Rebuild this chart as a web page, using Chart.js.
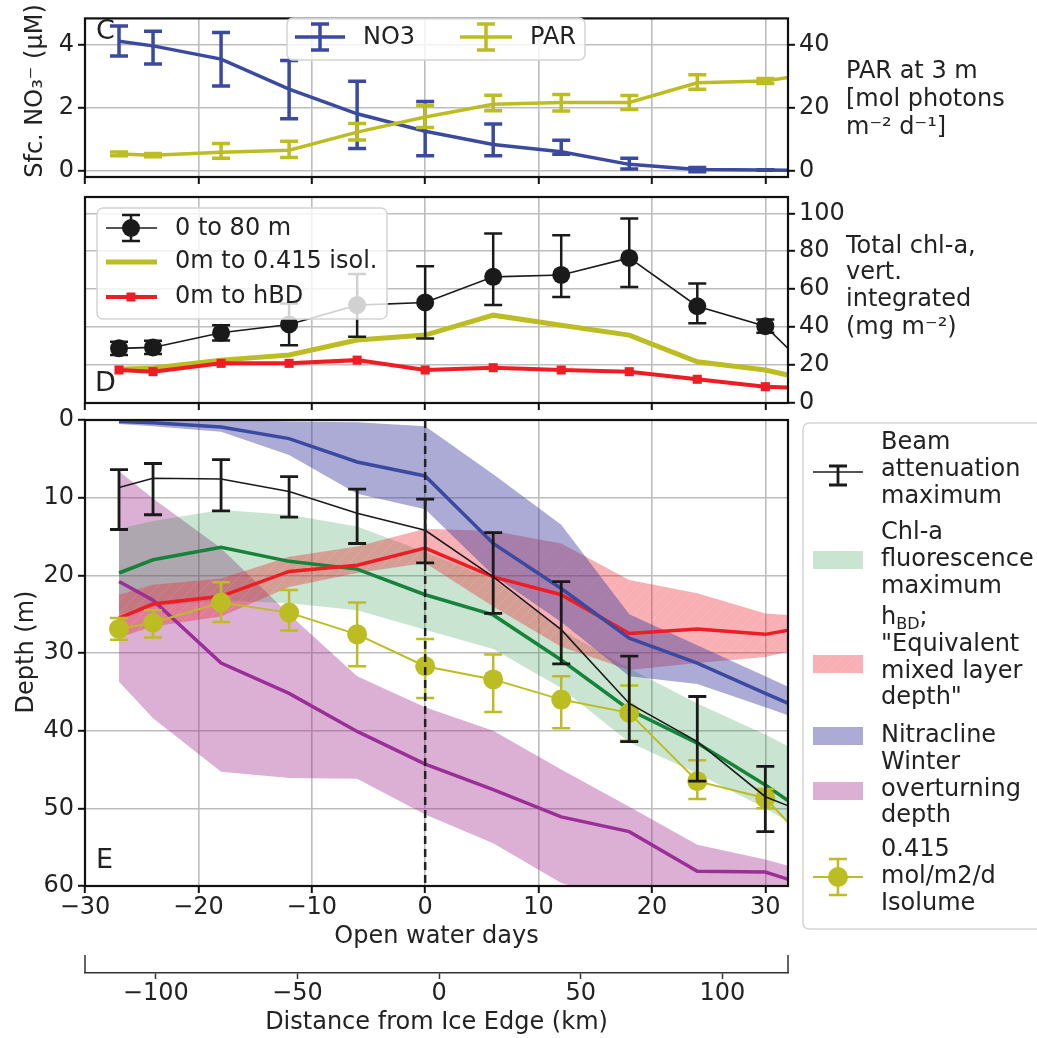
<!DOCTYPE html>
<html>
<head>
<meta charset="utf-8">
<script src="https://cdn.jsdelivr.net/npm/chart.js@4.4.0/dist/chart.umd.min.js"></script>
<style>
    html, body { margin: 0; padding: 0; background: #fff; }
    #wrap { position: relative; width: 1037px; height: 1038px; overflow: hidden; }
    #wrap canvas { position: absolute; left: 0; top: 0; }
</style>
</head>
<body>
<div id="wrap">
    <canvas id="panelE" width="1037" height="1038"></canvas>
    <canvas id="panelD" width="1037" height="1038"></canvas>
    <canvas id="panelC" width="1037" height="1038"></canvas>
</div>
<script>
// ---- shared x positions and ticks ----
const days = [-27, -24, -18, -12, -6, 0, 6, 12, 18, 24, 30, 36];
const dayTicks = [-30, -20, -10, 0, 10, 20, 30];
const kmTicks = [-100, -50, 0, 50, 100];
const no3Ticks = [0, 2, 4];
const parTicks = [0, 20, 40];
const chlTicks = [0, 20, 40, 60, 80, 100];
const depthTicks = [0, 10, 20, 30, 40, 50, 60];
const iceEdgeDay = 0;

// ---- panel C: surface nitrate (uM) and PAR at 3 m ----
const no3   = [4.10, 3.95, 3.53, 2.58, 1.80, 1.25, 0.83, 0.60, 0.20, 0.04, 0.02, 0.00];
const no3Lo = [3.63, 3.38, 2.68, 1.64, 0.70, 0.47, 0.47, 0.52, 0.05, -0.03, 0.01, 0.00];
const no3Hi = [4.58, 4.41, 4.37, 3.49, 2.83, 2.19, 1.48, 0.96, 0.39, 0.10, 0.03, 0.00];
const par   = [5.3, 4.9, 5.8, 6.5, 12.2, 17.0, 21.0, 21.6, 21.6, 27.8, 28.4, 31.7];
const parLo = [4.7, 4.4, 3.9, 4.2, 9.7, 13.7, 19.0, 18.9, 19.4, 25.8, 27.6, 31.7];
const parHi = [5.9, 5.4, 8.6, 9.3, 14.9, 20.7, 23.9, 24.1, 23.8, 30.4, 29.2, 31.7];

// ---- panel D: vertically integrated chl-a (mg m-2) ----
const chl80   = [28.8, 29.3, 37.0, 41.4, 51.6, 53.0, 66.5, 67.5, 76.5, 51.0, 40.5, 5.4];
const chl80Lo = [25.3, 25.8, 33.0, 30.5, 34.9, 34.0, 51.6, 55.9, 61.2, 42.0, 37.0, 5.4];
const chl80Hi = [32.3, 32.8, 41.0, 52.5, 68.0, 72.1, 89.3, 88.4, 97.2, 63.0, 44.0, 5.4];
const chlIso  = [17.8, 18.5, 22.6, 25.3, 33.2, 35.8, 46.3, 41.0, 35.8, 21.7, 17.4, 9.3];
const chlHbd  = [17.4, 16.5, 20.9, 20.9, 22.6, 17.4, 18.6, 17.4, 16.5, 12.5, 8.6, 7.4];

// ---- panel E: depths (m) ----
const beam     = [8.7, 7.5, 7.6, 9.2, 12.0, 14.2, 20.2, 27.0, 36.5, 41.4, 48.5, 52.0];
const beamLo   = [6.4, 5.6, 5.1, 7.3, 8.9, 10.2, 14.5, 20.8, 30.4, 35.6, 44.6, 52.0];
const beamHi   = [14.1, 12.2, 11.7, 12.5, 15.9, 18.4, 24.9, 31.4, 41.4, 46.5, 53.0, 52.0];
const chlMax   = [19.7, 18.0, 16.4, 18.2, 19.2, 22.5, 25.1, 30.9, 37.3, 41.6, 47.0, 53.0];
const chlMaxLo = [14.0, 13.0, 11.6, 12.2, 13.7, 17.0, 20.5, 27.0, 32.0, 36.5, 40.5, 45.0];
const chlMaxHi = [25.0, 24.0, 23.2, 23.6, 24.5, 27.0, 29.5, 34.5, 41.5, 45.5, 50.0, 55.0];
const hbd      = [25.5, 23.7, 22.7, 19.5, 18.7, 16.5, 20.2, 22.5, 27.5, 26.9, 27.6, 26.0];
const hbdLo    = [22.5, 21.2, 20.4, 17.6, 16.3, 14.0, 14.3, 15.9, 20.6, 22.3, 24.9, 25.5];
const hbdHi    = [28.0, 26.6, 25.3, 21.5, 19.7, 18.4, 24.0, 29.2, 32.2, 31.3, 30.5, 28.5];
const nitra    = [0.2, 0.35, 0.9, 2.4, 5.4, 7.2, 15.9, 21.7, 28.1, 31.3, 35.2, 39.0];
const nitraLo  = [0.0, 0.0, 0.0, 0.2, 0.3, 0.8, 7.0, 13.5, 25.0, 29.0, 33.0, 37.0];
const nitraHi  = [0.5, 0.8, 1.5, 4.5, 9.5, 11.5, 20.0, 26.0, 33.0, 34.0, 37.0, 40.0];
const winter   = [20.8, 23.2, 31.3, 35.2, 40.1, 44.3, 47.6, 51.1, 53.0, 58.1, 58.2, 61.0];
const winterLo = [6.6, 10.1, 16.5, 25.0, 33.0, 37.0, 40.0, 45.0, 49.8, 54.7, 56.6, 59.0];
const winterHi = [33.7, 38.4, 45.3, 46.1, 46.2, 50.8, 54.5, 59.6, 62.0, 64.0, 65.0, 66.0];
const iso      = [26.9, 26.1, 23.5, 24.8, 27.6, 31.7, 33.4, 36.0, 37.7, 46.5, 48.7, 58.0];
const isoLo    = [25.5, 24.5, 20.9, 21.9, 23.5, 28.2, 30.2, 33.0, 34.2, 43.8, 47.5, 58.0];
const isoHi    = [28.3, 28.0, 26.0, 27.1, 31.7, 35.8, 37.6, 39.7, 41.3, 48.8, 50.0, 58.0];

// colours
const BLUE = '#3a4aa0', OLIVE = '#bcbd22', BLACK = '#1a1a1a', RED = '#ee1d23',
      GREEN = '#15843a', PURPLE = '#9b2f98', TXT = '#222222', GRID = '#bdbdbd';
const FONT = "'DejaVu Sans', sans-serif";
const FS = 24;

const pts = (vals) => days.map((d, i) => ({ x: d, y: vals[i] }));
const setTicks = (list) => (scale) => { scale.ticks = list.map(v => ({ value: v })); };
const fmt = (v) => (v < 0 ? '\u2212' : '') + Math.abs(v);

function hatchFill() {
    const c = document.createElement('canvas');
    c.width = c.height = 12;
    const g = c.getContext('2d');
    g.fillStyle = 'rgba(235,30,40,0.35)';
    g.fillRect(0, 0, 12, 12);
    g.strokeStyle = 'rgba(255,255,255,0.12)';
    g.lineWidth = 1;
    g.beginPath();
    g.moveTo(0, 12); g.lineTo(12, 0);
    g.moveTo(-6, 6); g.lineTo(6, -6);
    g.moveTo(6, 18); g.lineTo(18, 6);
    g.stroke();
    return g.createPattern(c, 'repeat');
}
const RED_BAND = hatchFill();
const GREEN_BAND = 'rgba(20,140,50,0.23)';
const BLUE_BAND = 'rgba(55,55,155,0.42)';
const PINK_BAND = 'rgba(160,40,140,0.37)';

// ---- drawing helpers ----
function write(ctx, s, x, y, size, align) {
    ctx.font = (size || FS) + 'px ' + FONT;
    ctx.fillStyle = TXT;
    ctx.textAlign = align || 'left';
    ctx.textBaseline = 'middle';
    ctx.fillText(s, x, y);
}
function writeUp(ctx, s, x, y) {
    ctx.save();
    ctx.translate(x, y);
    ctx.rotate(-Math.PI / 2);
    write(ctx, s, 0, 0, FS, 'center');
    ctx.restore();
}
function legendBox(ctx, x, y, w, h) {
    ctx.save();
    ctx.beginPath();
    ctx.roundRect(x, y, w, h, 6);
    ctx.fillStyle = 'rgba(255,255,255,0.8)';
    ctx.fill();
    ctx.strokeStyle = '#d4d4d4';
    ctx.lineWidth = 1.5;
    ctx.stroke();
    ctx.restore();
}
function hLine(ctx, x1, x2, y, color, lw) {
    ctx.save();
    ctx.strokeStyle = color; ctx.lineWidth = lw;
    ctx.beginPath(); ctx.moveTo(x1, y); ctx.lineTo(x2, y); ctx.stroke();
    ctx.restore();
}
function errMark(ctx, x, y1, y2, cap, color, lw) {
    ctx.save();
    ctx.strokeStyle = color; ctx.lineWidth = lw;
    ctx.beginPath();
    ctx.moveTo(x, y1); ctx.lineTo(x, y2);
    ctx.moveTo(x - cap, y1); ctx.lineTo(x + cap, y1);
    ctx.moveTo(x - cap, y2); ctx.lineTo(x + cap, y2);
    ctx.stroke();
    ctx.restore();
}
function dot(ctx, x, y, r, color) {
    ctx.save();
    ctx.fillStyle = color;
    ctx.beginPath(); ctx.arc(x, y, r, 0, Math.PI * 2); ctx.fill();
    ctx.restore();
}
function swatch(ctx, x, y, w, h, fill) {
    ctx.save();
    ctx.fillStyle = fill;
    ctx.fillRect(x, y, w, h);
    ctx.restore();
}

// error bars from the errLo / errHi arrays of a dataset
const errorBars = {
    id: 'errorBars',
    afterDatasetDraw(chart, args) {
        const ds = chart.data.datasets[args.index];
        if (!ds.errLo) return;
        const xs = chart.scales[args.meta.xAxisID];
        const ys = chart.scales[args.meta.yAxisID];
        const a = chart.chartArea, ctx = chart.ctx;
        ctx.save();
        ctx.beginPath();
        ctx.rect(a.left - 2, a.top - 2, a.right - a.left + 4, a.bottom - a.top + 4);
        ctx.clip();
        ds.data.forEach((p, i) => {
            const x = xs.getPixelForValue(p.x);
            errMark(ctx, x, ys.getPixelForValue(ds.errLo[i]), ys.getPixelForValue(ds.errHi[i]),
                ds.capHalf, ds.borderColor, ds.errWidth);
        });
        ctx.restore();
    }
};

// black frame round each panel
const frame = {
    id: 'frame',
    afterDatasetsDraw(chart) {
        const a = chart.chartArea, ctx = chart.ctx;
        ctx.save();
        ctx.strokeStyle = '#111';
        ctx.lineWidth = 2.2;
        ctx.strokeRect(a.left, a.top, a.right - a.left, a.bottom - a.top);
        ctx.restore();
    }
};
Chart.register(errorBars, frame);

const tickFont = { family: FONT, size: FS };
const gridOpts = (onArea) => ({
    display: true, drawOnChartArea: onArea, color: GRID, lineWidth: 1.6,
    drawTicks: true, tickLength: 7, tickColor: '#111', tickWidth: 2
});
const labelOpts = { display: true, font: tickFont, color: TXT, padding: 4, autoSkip: false, maxRotation: 0, callback: fmt };
const xDays = (h, labels) => ({
    type: 'linear', position: 'bottom', min: -30, max: 32, weight: 0,
    afterBuildTicks: setTicks(dayTicks), afterFit: (s) => { s.height = h; },
    grid: gridOpts(true), border: { display: false },
    ticks: labels ? Object.assign({}, labelOpts, { padding: 0 }) : { display: false }
});
const baseOptions = (padding) => ({
    responsive: false, animation: false, devicePixelRatio: 1, events: [],
    layout: { padding: padding, autoPadding: false },
    plugins: { legend: { display: false }, tooltip: { enabled: false } }
});
const helper = (vals, order) => ({
    data: pts(vals), borderColor: 'rgba(0,0,0,0)', borderWidth: 0, pointRadius: 0, fill: false, order: order
});
const bandTop = (vals, color, order) => ({
    data: pts(vals), borderColor: 'rgba(0,0,0,0)', borderWidth: 0, pointRadius: 0,
    fill: '-1', backgroundColor: color, order: order
});

// ================= panel C =================
new Chart(document.getElementById('panelC'), {
    type: 'line',
    data: {
        datasets: [
            { label: 'PAR', data: pts(par), yAxisID: 'y2', xAxisID: 'x', borderColor: OLIVE, borderWidth: 3.5,
              pointRadius: 0, errLo: parLo, errHi: parHi, errWidth: 3.5, capHalf: 9, order: 0 },
            { label: 'NO3', data: pts(no3), yAxisID: 'y', xAxisID: 'x', borderColor: BLUE, borderWidth: 3.5,
              pointRadius: 0, errLo: no3Lo, errHi: no3Hi, errWidth: 3.5, capHalf: 9, order: 1 }
        ]
    },
    options: Object.assign(baseOptions({ top: 5, left: 0, right: 0, bottom: 841 }), {
        scales: {
            x: xDays(20, false),
            y: { type: 'linear', position: 'left', min: -0.2, max: 4.82,
                 afterBuildTicks: setTicks(no3Ticks), afterFit: (s) => { s.width = 85; },
                 grid: gridOpts(true), border: { display: false }, ticks: labelOpts },
            y2: { type: 'linear', position: 'right', min: -2, max: 48.2,
                  afterBuildTicks: setTicks(parTicks), afterFit: (s) => { s.width = 249; },
                  grid: gridOpts(false), border: { display: false }, ticks: labelOpts }
        }
    }),
    plugins: [{
        id: 'decorC',
        afterDraw(chart) {
            const ctx = chart.ctx;
            write(ctx, 'C', 96, 32, 27);
            legendBox(ctx, 287, 18, 298, 42);
            hLine(ctx, 295, 345, 37, BLUE, 3.5);
            errMark(ctx, 320, 24, 50, 9, BLUE, 3.5);
            write(ctx, 'NO3', 363, 38);
            hLine(ctx, 460, 512, 37, OLIVE, 3.5);
            errMark(ctx, 486, 24, 50, 9, OLIVE, 3.5);
            write(ctx, 'PAR', 530, 38);
            writeUp(ctx, 'Sfc. NO\u2083\u207B (\u03BCM)', 36, 91);
            write(ctx, 'PAR at 3 m', 846, 72);
            write(ctx, '[mol photons', 846, 100);
            write(ctx, 'm\u207B\u00B2 d\u207B\u00B9]', 846, 128);
        }
    }]
});

// ================= panel D =================
new Chart(document.getElementById('panelD'), {
    type: 'line',
    data: {
        datasets: [
            { label: '0 to 80 m', data: pts(chl80), borderColor: BLACK, borderWidth: 1.6,
              pointRadius: 9, pointBackgroundColor: BLACK, pointBorderWidth: 0,
              errLo: chl80Lo, errHi: chl80Hi, errWidth: 2.5, capHalf: 9, order: 0 },
            { label: '0m to hBD', data: pts(chlHbd), borderColor: RED, borderWidth: 4,
              pointStyle: 'rect', pointRadius: 6.4, pointBackgroundColor: RED, pointBorderWidth: 0, order: 1 },
            { label: '0m to 0.415 isol.', data: pts(chlIso), borderColor: OLIVE, borderWidth: 5,
              pointRadius: 0, order: 2 }
        ]
    },
    options: Object.assign(baseOptions({ top: 197, left: 85, right: 0, bottom: 615 }), {
        scales: {
            x: xDays(20, false),
            y: { type: 'linear', position: 'right', min: 0, max: 108.6,
                 afterBuildTicks: setTicks(chlTicks), afterFit: (s) => { s.width = 249; },
                 grid: gridOpts(true), border: { display: false }, ticks: labelOpts }
        }
    }),
    plugins: [{
        id: 'decorD',
        afterDraw(chart) {
            const ctx = chart.ctx;
            write(ctx, 'D', 95, 384, 27);
            legendBox(ctx, 97, 208, 290, 111);
            hLine(ctx, 106, 157, 228, BLACK, 1.6);
            errMark(ctx, 131, 215, 241, 9, BLACK, 2.5);
            dot(ctx, 131, 228, 9, BLACK);
            write(ctx, '0 to 80 m', 175, 229);
            hLine(ctx, 106, 157, 262, OLIVE, 5);
            write(ctx, '0m to 0.415 isol.', 175, 262);
            hLine(ctx, 106, 157, 297, RED, 4);
            swatch(ctx, 126.5, 292.5, 9, 9, RED);
            write(ctx, '0m to hBD', 175, 297);
            write(ctx, 'Total chl-a,', 846, 247);
            write(ctx, 'vert.', 846, 273);
            write(ctx, 'integrated', 846, 300);
            write(ctx, '(mg m\u207B\u00B2)', 846, 328);
        }
    }]
});

// ================= panel E =================
new Chart(document.getElementById('panelE'), {
    type: 'line',
    data: {
        datasets: [
            helper(winterLo, 100), bandTop(winterHi, PINK_BAND, 100),
            helper(chlMaxLo, 99), bandTop(chlMaxHi, GREEN_BAND, 99),
            helper(hbdLo, 98), bandTop(hbdHi, RED_BAND, 98),
            helper(nitraLo, 97), bandTop(nitraHi, BLUE_BAND, 97),
            { label: 'Winter overturning depth', data: pts(winter), borderColor: PURPLE, borderWidth: 3.5, pointRadius: 0, order: 50 },
            { label: 'Chl-a fluorescence maximum', data: pts(chlMax), borderColor: GREEN, borderWidth: 3.5, pointRadius: 0, order: 49 },
            { label: 'hBD', data: pts(hbd), borderColor: RED, borderWidth: 3.5, pointRadius: 0, order: 48 },
            { label: 'Nitracline', data: pts(nitra), borderColor: BLUE, borderWidth: 3.5, pointRadius: 0, order: 47 },
            { label: 'Isolume', data: pts(iso), borderColor: OLIVE, borderWidth: 2, pointRadius: 10,
              pointBackgroundColor: OLIVE, pointBorderWidth: 0, errLo: isoLo, errHi: isoHi, errWidth: 2.5, capHalf: 9, order: 46 },
            { label: 'Beam attenuation maximum', data: pts(beam), borderColor: BLACK, borderWidth: 1.6, pointRadius: 0,
              errLo: beamLo, errHi: beamHi, errWidth: 2.8, capHalf: 9, order: 45 }
        ].map(ds => Object.assign({ xAxisID: 'x', yAxisID: 'y' }, ds))
    },
    options: Object.assign(baseOptions({ top: 420, left: 0, right: 249, bottom: 0 }), {
        scales: {
            x: xDays(87, true),
            xd: { type: 'linear', axis: 'x', position: 'bottom', min: -125, max: 123.2, weight: 1,
                  afterBuildTicks: setTicks(kmTicks), afterFit: (s) => { s.height = 65; },
                  grid: { display: true, drawOnChartArea: false, drawTicks: true, tickLength: 6, tickColor: '#333', tickWidth: 1.5 },
                  border: { display: true, color: '#333', width: 1.5 },
                  ticks: Object.assign({}, labelOpts, { padding: 0 }) },
            y: { type: 'linear', position: 'left', reverse: true, min: 0, max: 60,
                 afterBuildTicks: setTicks(depthTicks), afterFit: (s) => { s.width = 85; },
                 grid: gridOpts(true), border: { display: false }, ticks: labelOpts }
        }
    }),
    plugins: [{
        id: 'decorE',
        afterDatasetsDraw(chart) {
            const ctx = chart.ctx, a = chart.chartArea;
            const x0 = chart.scales.x.getPixelForValue(iceEdgeDay);
            ctx.save();
            ctx.strokeStyle = '#222';
            ctx.lineWidth = 2.5;
            ctx.setLineDash([8, 5]);
            ctx.beginPath(); ctx.moveTo(x0, a.top); ctx.lineTo(x0, a.bottom); ctx.stroke();
            ctx.restore();
        },
        afterDraw(chart) {
            const ctx = chart.ctx, a = chart.chartArea;
            const yd = chart.scales.xd.top;
            write(ctx, 'E', 96, 861, 27);
            writeUp(ctx, 'Depth (m)', 27, 652);
            write(ctx, 'Open water days', (a.left + a.right) / 2, 937, FS, 'center');
            write(ctx, 'Distance from Ice Edge (km)', (a.left + a.right) / 2, 1023, FS, 'center');
            ctx.save();
            ctx.strokeStyle = '#333'; ctx.lineWidth = 1.5;
            ctx.beginPath();
            ctx.moveTo(a.left, yd - 18); ctx.lineTo(a.left, yd);
            ctx.moveTo(a.right, yd - 18); ctx.lineTo(a.right, yd);
            ctx.stroke();
            ctx.restore();

            // legend
            legendBox(ctx, 803, 423, 260, 506);
            hLine(ctx, 813, 863, 472, BLACK, 1.6);
            errMark(ctx, 838, 466, 485, 9, BLACK, 2.8);
            write(ctx, 'Beam', 881, 443);
            write(ctx, 'attenuation', 881, 470);
            write(ctx, 'maximum', 881, 497);
            swatch(ctx, 813, 551, 50, 18, GREEN_BAND);
            write(ctx, 'Chl-a', 881, 533);
            write(ctx, 'fluorescence', 881, 560);
            write(ctx, 'maximum', 881, 587);
            swatch(ctx, 813, 655, 50, 18, RED_BAND);
            write(ctx, 'h', 881, 618);
            const wh = ctx.measureText('h').width;
            write(ctx, 'BD', 881 + wh, 625, 16);
            const wb = ctx.measureText('BD').width;
            write(ctx, ';', 881 + wh + wb, 618);
            write(ctx, '"Equivalent', 881, 645);
            write(ctx, 'mixed layer', 881, 672);
            write(ctx, 'depth"', 881, 698);
            swatch(ctx, 813, 727, 50, 18, BLUE_BAND);
            write(ctx, 'Nitracline', 881, 736);
            swatch(ctx, 813, 782, 50, 18, PINK_BAND);
            write(ctx, 'Winter', 881, 763);
            write(ctx, 'overturning', 881, 790);
            write(ctx, 'depth', 881, 816);
            hLine(ctx, 813, 863, 877, OLIVE, 2);
            errMark(ctx, 838, 859, 895, 9, OLIVE, 2.5);
            dot(ctx, 838, 877, 10, OLIVE);
            write(ctx, '0.415', 881, 850);
            write(ctx, 'mol/m2/d', 881, 877);
            write(ctx, 'Isolume', 881, 904);
        }
    }]
});
</script>
</body>
</html>
